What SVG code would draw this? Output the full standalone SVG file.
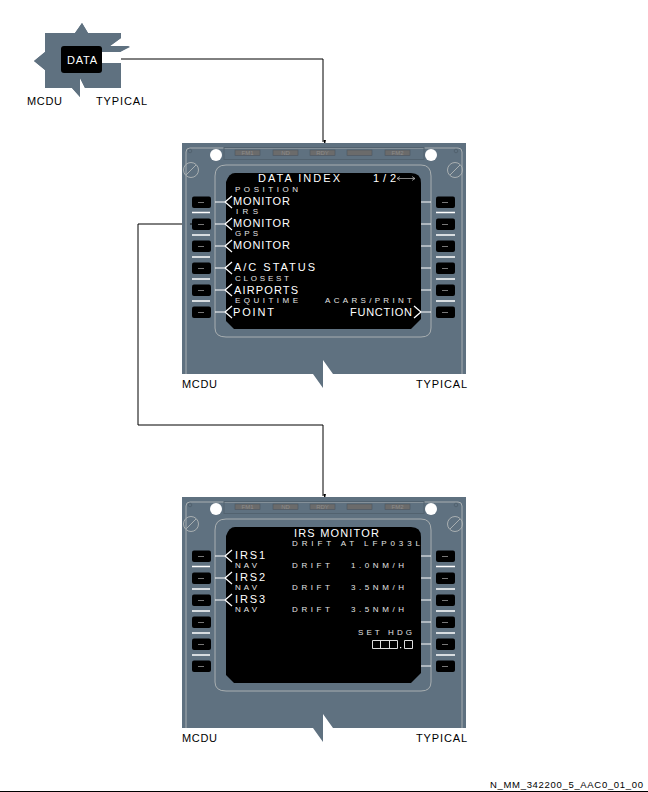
<svg xmlns="http://www.w3.org/2000/svg" width="648" height="792" viewBox="0 0 648 792">
<style>
text{font-family:"Liberation Sans",Arial,sans-serif}
.b{fill:#fff;font-size:11px}
.s{fill:#e4e4e4;font-size:8px}
.k{fill:#000;font-size:11px}
.c{fill:none;stroke:#000;stroke-width:1}
.w{fill:none;stroke:#fff;stroke-width:1.3}
.g{fill:none;stroke:#a9afb1;stroke-width:1}
.t{fill:#6b6b6b;stroke:#4b5660;stroke-width:.6}
.tt{fill:#8b8b8b;font-size:6px;text-anchor:middle}
.bz{fill:#000}
.dash{stroke:#777;stroke-width:1}
</style>
<defs>
<marker id="ah" markerWidth="6" markerHeight="14" refX="5.5" refY="7" orient="auto-start-reverse" viewBox="0 0 14 6" markerUnits="userSpaceOnUse"><path d="M0 0L14 3L0 6Z" fill="#000"/></marker>
<g id="panel">
<path d="M182 143H466V374H333L323 360V388L313 374H182Z" fill="#5f7180"/>
<path class="g" d="M186 374V152Q186 148 190 148H458Q462 148 462 152V374"/>
<rect x="224" y="147.500" width="200" height="12" fill="none" stroke="#52626f"/>
<path class="g" d="M215 176Q215 165 226 165H421Q431 165 431 176V328Q431 337 421 337H226Q215 337 215 328Z"/>
<rect class="t" x="235" y="150" width="25" height="5.500"/><rect class="t" x="273" y="150" width="25" height="5.500"/><rect class="t" x="310" y="150" width="25" height="5.500"/><rect class="t" x="347" y="150" width="25" height="5.500"/><rect class="t" x="385" y="150" width="25" height="5.500"/>
<text class="tt" x="247.500" y="155">FM1</text><text class="tt" x="285.500" y="155">ND</text><text class="tt" x="322.500" y="155">RDY</text><text class="tt" x="397.500" y="155">FM2</text>
<circle cx="216" cy="155" r="6" fill="#fff"/><circle cx="431" cy="155" r="6" fill="#fff"/>
<circle cx="190" cy="151" r="1.800" fill="none" stroke="#52626f"/><circle cx="456" cy="151" r="1.800" fill="none" stroke="#52626f"/>
<g class="g"><circle cx="191" cy="170" r="7.500"/><path d="M186 175L196 165"/><circle cx="455" cy="170" r="7.500"/><path d="M450 175L460 165"/></g>
<path d="M235 173H411Q421 173 421 183V319L415 325L411 329H234L226 321V182Q229 173 235 173Z" fill="#000"/>
<g fill="#000"><rect x="192" y="196.500" width="19" height="11.500" rx="2"/><rect x="192" y="218.500" width="19" height="11.500" rx="2"/><rect x="192" y="240.500" width="19" height="11.500" rx="2"/><rect x="192" y="262.500" width="19" height="11.500" rx="2"/><rect x="192" y="284.500" width="19" height="11.500" rx="2"/><rect x="192" y="306.500" width="19" height="11.500" rx="2"/>
<rect x="436" y="196.500" width="19" height="11.500" rx="2"/><rect x="436" y="218.500" width="19" height="11.500" rx="2"/><rect x="436" y="240.500" width="19" height="11.500" rx="2"/><rect x="436" y="262.500" width="19" height="11.500" rx="2"/><rect x="436" y="284.500" width="19" height="11.500" rx="2"/><rect x="436" y="306.500" width="19" height="11.500" rx="2"/></g>
<path class="dash" d="M198 202.500h6M198 224.500h6M198 246.500h6M198 268.500h6M198 290.500h6M198 312.500h6M442 202.500h6M442 224.500h6M442 246.500h6M442 268.500h6M442 290.500h6M442 312.500h6"/>
<path class="w" d="M192 212.500h18M192 235h18M192 257h18M192 279h18M192 301h18M436 212.500h19M436 235h19M436 257h19M436 279h19M436 301h19"/>
<path d="M421 202h10M421 224h10M421 246h10M421 268h10M421 290h10M421 312h10" fill="none" stroke="#fff"/>
</g>
</defs>
<g id="connectors">
<path class="c" d="M121 59H323V142" marker-end="url(#ah)"/>
<path class="c" d="M192 224H138V425H323V496" marker-end="url(#ah)"/>
</g>
<g id="mcdu-small">
<path d="M82 23L88 33H121V38L110 46H130L120 52H102V73H61V46H102V63H121V88H85L80 78V97L72 88H45V70L34 61L45 52V33H75Z" fill="#5f7180"/>
<path d="M45 33H75L82 23L88 33H121V38L110 46L130 47L120 52H100V56H45Z" fill="#5f7180"/>
<path d="M45 52H100V63H121V88H85L80 78L80 97L72 88H45V70L34 61Z" fill="#5f7180"/>
<path d="M102 57.500H121M102 60.500H121" stroke="#fff" stroke-width="1.500" fill="none"/>
<rect x="61" y="46" width="41" height="27" rx="3" fill="#000"/>
<text x="67" y="64" fill="#fff" font-size="11" textLength="30" lengthAdjust="spacing">DATA</text>
<text class="k" x="27" y="105" textLength="35">MCDU</text>
<text class="k" x="96" y="105" textLength="51">TYPICAL</text>
</g>
<g id="mcdu-data-index">
<use href="#panel"/>
<path class="w" d="M225 202l7-6M225 202l7 6M225 224l7-6M225 224l7 6M225 246l7-6M225 246l7 6M225 268l7-6M225 268l7 6M225 290l7-6M225 290l7 6M225 312l7-6M225 312l7 6M421 312l-7-6M421 312l-7 6" stroke-width=".8"/>
<path d="M215 202H226M215 224H226M215 246H226M215 268H226M215 290H226M215 312H226" stroke="#fff" fill="none"/>
<path d="M192 224H190" stroke="#000"/>
<text class="b" x="258" y="182" textLength="82">DATA INDEX</text>
<text class="b" x="373" y="182" textLength="23">1/2</text>
<path d="M397 178.500H415M397 178.500l3-2M397 178.500l3 2M415 178.500l-3-2M415 178.500l-3 2" stroke="#bbb" stroke-width=".7" fill="none"/>
<text class="s" x="235" y="192" textLength="63">POSITION</text>
<text class="b" x="233" y="205" textLength="57">MONITOR</text>
<text class="s" x="236" y="214" textLength="22">IRS</text>
<text class="b" x="233" y="227" textLength="57">MONITOR</text>
<text class="s" x="235" y="236" textLength="23">GPS</text>
<text class="b" x="233" y="249" textLength="57">MONITOR</text>
<text class="b" x="234" y="271" textLength="81">A/C STATUS</text>
<text class="s" x="235" y="281" textLength="54">CLOSEST</text>
<text class="b" x="234" y="294" textLength="64">AIRPORTS</text>
<text class="s" x="235" y="303" textLength="63">EQUITIME</text>
<text class="b" x="233" y="316" textLength="41">POINT</text>
<text class="s" x="325" y="303" textLength="87">ACARS/PRINT</text>
<text class="b" x="350" y="316" textLength="62">FUNCTION</text>
<text class="k" x="182" y="388" textLength="35">MCDU</text>
<text class="k" x="416" y="388" textLength="51">TYPICAL</text>
</g>
<g id="mcdu-irs-monitor">
<use href="#panel" y="354"/>
<path class="w" d="M225 556l7-6M225 556l7 6M225 578l7-6M225 578l7 6M225 600l7-6M225 600l7 6" stroke-width=".8"/>
<path d="M215 556H226M215 578H226M215 600H226" stroke="#fff" fill="none"/>
<text class="b" x="294" y="537" textLength="85">IRS MONITOR</text>
<text class="s" x="292" y="546" textLength="128">DRIFT AT LFP033L</text>
<text class="b" x="235" y="559" textLength="30">IRS1</text>
<text class="s" x="235" y="568" textLength="22">NAV</text>
<text class="s" x="292" y="568" textLength="38">DRIFT</text>
<text class="s" x="351" y="568" textLength="53">1.0NM/H</text>
<text class="b" x="235" y="581" textLength="30">IRS2</text>
<text class="s" x="235" y="590" textLength="22">NAV</text>
<text class="s" x="292" y="590" textLength="38">DRIFT</text>
<text class="s" x="351" y="590" textLength="53">3.5NM/H</text>
<text class="b" x="235" y="603" textLength="30">IRS3</text>
<text class="s" x="235" y="612" textLength="22">NAV</text>
<text class="s" x="292" y="612" textLength="38">DRIFT</text>
<text class="s" x="351" y="612" textLength="53">3.5NM/H</text>
<text class="s" x="358" y="635" textLength="54">SET HDG</text>
<path d="M372.500 640.500h25v8h-25zM380.500 640.500v8M389.500 640.500v8M404.500 640.500h8v8h-8z" fill="none" stroke="#ddd"/>
<rect x="400" y="647" width="1.200" height="1.200" fill="#fff"/>
<text class="k" x="182" y="742" textLength="35">MCDU</text>
<text class="k" x="416" y="742" textLength="51">TYPICAL</text>
</g>
<g id="footer">
<text x="490" y="788" fill="#000" font-size="9.500" textLength="153">N_MM_342200_5_AAC0_01_00</text>
<path d="M0 791.500H648" stroke="#000"/>
</g>
</svg>
